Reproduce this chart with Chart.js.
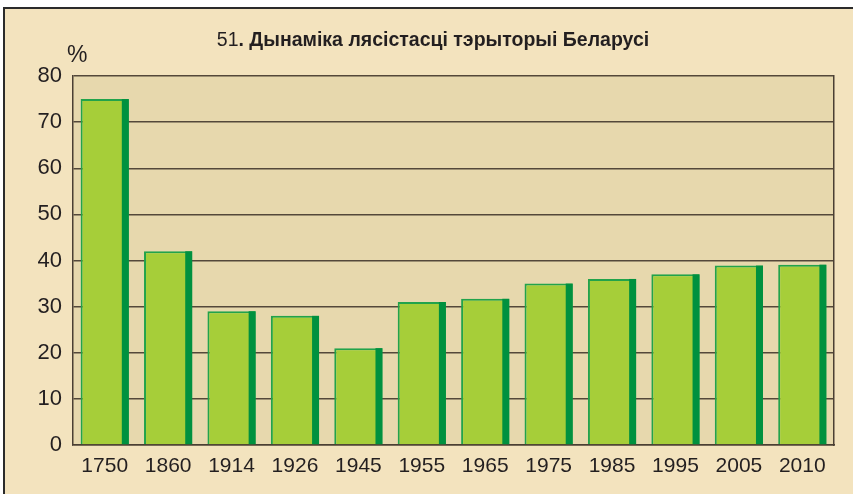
<!DOCTYPE html>
<html>
<head>
<meta charset="utf-8">
<script src="https://cdn.jsdelivr.net/npm/chart.js@4/dist/chart.umd.min.js"></script>
<style>
  html, body { margin: 0; padding: 0; background: #ffffff; width: 853px; height: 494px; overflow: hidden; }
  #frame { position: absolute; left: 3px; top: 7px; width: 860px; height: 500px; background: #F3E3BE; border-left: 2px solid #2b2b2b; border-top: 2px solid #2b2b2b; }
  #wrap { position: absolute; left: 0; top: 0; width: 853px; height: 494px; }
  #title { position: absolute; left: 0; width: 866px; top: 28px; text-align: center; font-family: "Liberation Sans", Arial, sans-serif; font-size: 19.5px; font-weight: bold; color: #231f20; }
  #title span { font-weight: normal; }
  #pct { position: absolute; left: 67px; top: 41px; font-family: "Liberation Sans", Arial, sans-serif; font-size: 23px; color: #231f20; }
</style>
</head>
<body>
<div id="frame"></div>
<div id="wrap"><canvas id="c" width="853" height="494"></canvas></div>
<div id="title"><span>51</span>. Дынаміка лясістасці тэрыторыі Беларусі</div>
<div id="pct">%</div>
<script>
const categories = ["1750","1860","1914","1926","1945","1955","1965","1975","1985","1995","2005","2010"];
const forestCover = [75, 42, 29, 28, 21, 31, 31.7, 35, 36, 37, 38.9, 39.1];
const yTicks = [0, 10, 20, 30, 40, 50, 60, 70, 80];

const plotBg = {
  id: 'plotBg',
  beforeDraw(chart) {
    const {ctx, chartArea: a} = chart;
    ctx.save();
    ctx.fillStyle = '#E7D8AD';
    ctx.fillRect(a.left, a.top, a.right - a.left, a.bottom - a.top);
    ctx.restore();
  },
  afterDatasetsDraw(chart) {
    const {ctx} = chart;
    const meta = chart.getDatasetMeta(0);
    ctx.save();
    ctx.fillStyle = '#00913F';
    meta.data.forEach(el => {
      const p = el.getProps(['x','y','base','width'], true);
      const right = p.x + p.width / 2;
      ctx.fillRect(right - 7, p.y, 7, p.base - p.y);
    });
    ctx.restore();
  }
};

new Chart(document.getElementById('c'), {
  type: 'bar',
  data: {
    labels: categories,
    datasets: [{
      data: forestCover,
      backgroundColor: '#A6CE39',
      borderColor: '#22A34B',
      borderWidth: {top: 2, left: 2, right: 2, bottom: 0},
      borderSkipped: false,
      barPercentage: 0.76,
      categoryPercentage: 1.0
    }]
  },
  options: {
    responsive: false,
    animation: false,
    devicePixelRatio: 1,
    layout: { padding: { top: 76, right: 19, left: 0, bottom: 0 } },
    plugins: { legend: { display: false }, tooltip: { enabled: false }, title: { display: false } },
    scales: {
      x: {
        grid: { display: false, drawTicks: false },
        border: { display: true, color: '#4a3f33', width: 1.5 },
        ticks: { color: '#231f20', font: { family: '"Liberation Sans", Arial, sans-serif', size: 21 }, padding: 9, maxRotation: 0 },
        afterFit(scale) { scale.height = 49; }
      },
      y: {
        min: 0, max: 80,
        afterBuildTicks(scale) { scale.ticks = yTicks.map(v => ({value: v})); },
        grid: { color: '#54483a', lineWidth: 1.5, drawTicks: true, tickLength: 0 },
        border: { display: true, color: '#4a3f33', width: 1.5 },
        ticks: { color: '#231f20', font: { family: '"Liberation Sans", Arial, sans-serif', size: 22 }, padding: 11 },
        afterFit(scale) { scale.width = 73; }
      },
      y2: {
        position: 'right', min: 0, max: 80,
        grid: { display: false },
        border: { display: true, color: '#4a3f33', width: 1.5 },
        ticks: { display: false },
        afterFit(scale) { scale.width = 0; }
      }
    }
  },
  plugins: [plotBg]
});
</script>
</body>
</html>
